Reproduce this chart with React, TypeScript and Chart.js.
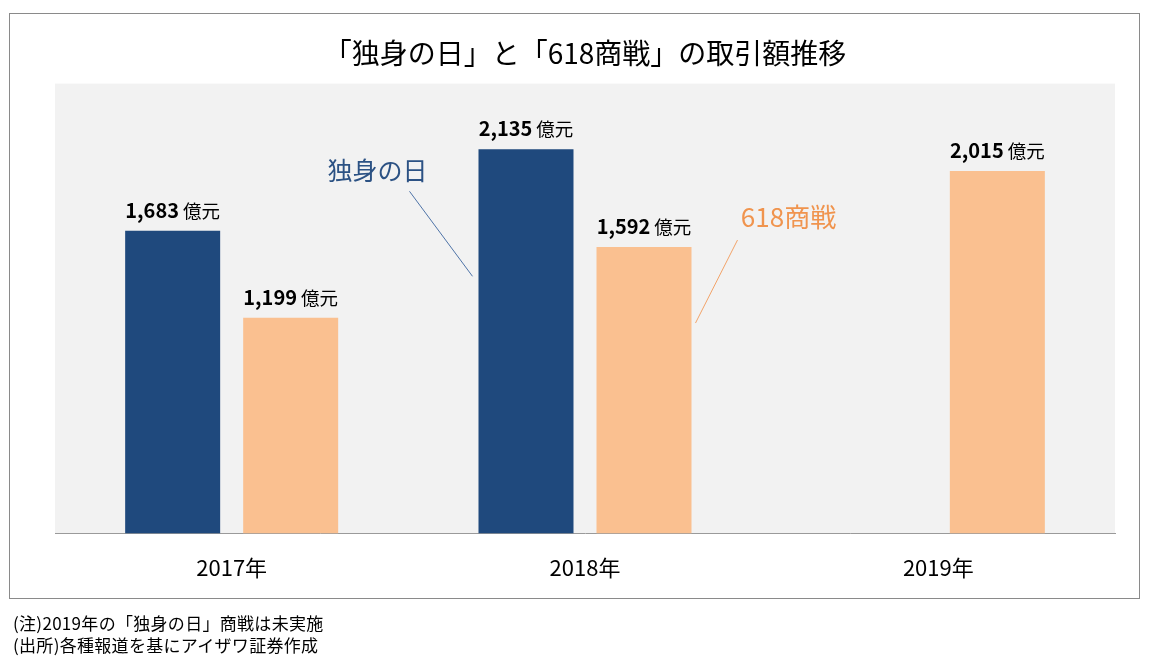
import React, { useEffect, useRef } from "react";
import { Chart, registerables } from "chart.js";

Chart.register(...registerables);

const categories = ["2017年", "2018年", "2019年"];
const singlesDayValues: (number | null)[] = [1683, 2135, null];
const sale618Values: (number | null)[] = [1199, 1592, 2015];
const seriesNames = ["独身の日", "618商戦"];
const unitLabel = "億元";
const titleText = "「独身の日」と「618商戦」の取引額推移";
const footNotes = ["(注)2019年の「独身の日」商戦は未実施", "(出所)各種報道を基にアイザワ証券作成"];
const yMax = 2500;

const NAVY = "#1F497D";
const PEACH = "#FAC090";
const ORANGE_TEXT = "#F0944E";
const NAVY_TEXT = "#2C5284";
const FONT = "'Noto Sans CJK JP', 'Noto Sans', sans-serif";

function fmt(v: number): string {
  return String(v).replace(/\B(?=(\d{3})+(?!\d))/g, ",");
}

const framePlugin = {
  id: "frame",
  beforeDraw(chart: any) {
    const { ctx, chartArea } = chart;
    ctx.save();
    ctx.fillStyle = "#ffffff";
    ctx.fillRect(0, 0, chart.width, chart.height);
    ctx.strokeStyle = "#8a8a8a";
    ctx.lineWidth = 1;
    ctx.strokeRect(9.5, 13.5, 1130, 585);
    ctx.fillStyle = "#F2F2F2";
    ctx.fillRect(chartArea.left, chartArea.top, chartArea.right - chartArea.left, chartArea.bottom - chartArea.top);
    ctx.restore();
  },
};

const valueLabelPlugin = {
  id: "valueLabels",
  afterDatasetsDraw(chart: any) {
    const ctx = chart.ctx;
    chart.data.datasets.forEach((ds: any, di: number) => {
      const meta = chart.getDatasetMeta(di);
      meta.data.forEach((el: any, i: number) => {
        const v = ds.data[i];
        if (v == null) return;
        const num = fmt(v);
        ctx.save();
        ctx.font = `bold 20px ${FONT}`;
        const w1 = ctx.measureText(num).width;
        ctx.font = `18.5px ${FONT}`;
        const w2 = ctx.measureText(unitLabel).width;
        const gap = 4;
        const total = w1 + gap + w2;
        const x = el.x - total / 2;
        const y = el.y - 13;
        ctx.textAlign = "left";
        ctx.textBaseline = "alphabetic";
        ctx.fillStyle = "#000000";
        ctx.font = `bold 20px ${FONT}`;
        ctx.fillText(num, x, y);
        ctx.font = `18.5px ${FONT}`;
        ctx.fillText(unitLabel, x + w1 + gap, y);
        ctx.restore();
      });
    });
  },
};

const seriesCalloutPlugin = {
  id: "seriesCallouts",
  afterDatasetsDraw(chart: any) {
    const ctx = chart.ctx;
    const navyBar = chart.getDatasetMeta(0).data[1];
    const peachBar = chart.getDatasetMeta(1).data[1];
    ctx.save();
    if (navyBar) {
      const left = navyBar.x - navyBar.width / 2;
      ctx.strokeStyle = "#4F74A8";
      ctx.lineWidth = 1;
      ctx.beginPath();
      ctx.moveTo(left - 69, navyBar.y + 42);
      ctx.lineTo(left - 6, navyBar.y + 127);
      ctx.stroke();
      ctx.font = `25px ${FONT}`;
      ctx.fillStyle = NAVY_TEXT;
      ctx.textAlign = "center";
      ctx.textBaseline = "middle";
      ctx.fillText(seriesNames[0], left - 101, navyBar.y + 21);
    }
    if (peachBar) {
      const right = peachBar.x + peachBar.width / 2;
      ctx.strokeStyle = "#F3A46A";
      ctx.lineWidth = 1;
      ctx.beginPath();
      ctx.moveTo(right + 46, peachBar.y - 7);
      ctx.lineTo(right + 4, peachBar.y + 76);
      ctx.stroke();
      ctx.font = `26px ${FONT}`;
      ctx.fillStyle = ORANGE_TEXT;
      ctx.textAlign = "center";
      ctx.textBaseline = "middle";
      ctx.fillText(seriesNames[1], right + 97, peachBar.y - 30);
    }
    ctx.restore();
  },
};

export default function App() {
  const ref = useRef<HTMLCanvasElement | null>(null);

  useEffect(() => {
    if (!ref.current) return;
    const chart = new Chart(ref.current, {
      type: "bar",
      data: {
        labels: categories,
        datasets: [
          {
            label: seriesNames[0],
            data: singlesDayValues,
            backgroundColor: NAVY,
            categoryPercentage: 0.668,
            barPercentage: 0.805,
          },
          {
            label: seriesNames[1],
            data: sale618Values,
            backgroundColor: PEACH,
            categoryPercentage: 0.668,
            barPercentage: 0.805,
          },
        ],
      },
      options: {
        responsive: false,
        animation: false,
        devicePixelRatio: 1,
        layout: { padding: { left: 55, right: 34, top: 0, bottom: 67 } },
        plugins: {
          legend: { display: false },
          tooltip: { enabled: false },
          title: {
            display: true,
            text: titleText,
            color: "#000000",
            font: { family: FONT, size: 28, weight: "normal", lineHeight: 1.2 },
            padding: { top: 37, bottom: 13 },
          },
        },
        scales: {
          x: {
            grid: { display: false, drawTicks: false },
            border: { display: true, color: "#9a9a9a", width: 1 },
            ticks: {
              color: "#000000",
              font: { family: FONT, size: 22, lineHeight: 1.2 },
              padding: 21,
            },
          },
          y: {
            display: false,
            min: 0,
            max: yMax,
          },
        },
      } as any,
      plugins: [framePlugin, valueLabelPlugin, seriesCalloutPlugin],
    });
    return () => chart.destroy();
  }, []);

  return (
    <div>
      <canvas
        ref={ref}
        width={1149}
        height={669}
        style={{ position: "fixed", left: 0, top: 0, width: 1149, height: 669 }}
      />
      <div
        style={{
          position: "fixed",
          left: 13,
          top: 612,
          fontFamily: FONT,
          fontSize: "17px",
          letterSpacing: "0.3px",
          lineHeight: "22px",
          color: "#000",
          whiteSpace: "nowrap",
        }}
      >
        {footNotes.map((n, i) => (
          <div key={i}>{n}</div>
        ))}
      </div>
    </div>
  );
}
